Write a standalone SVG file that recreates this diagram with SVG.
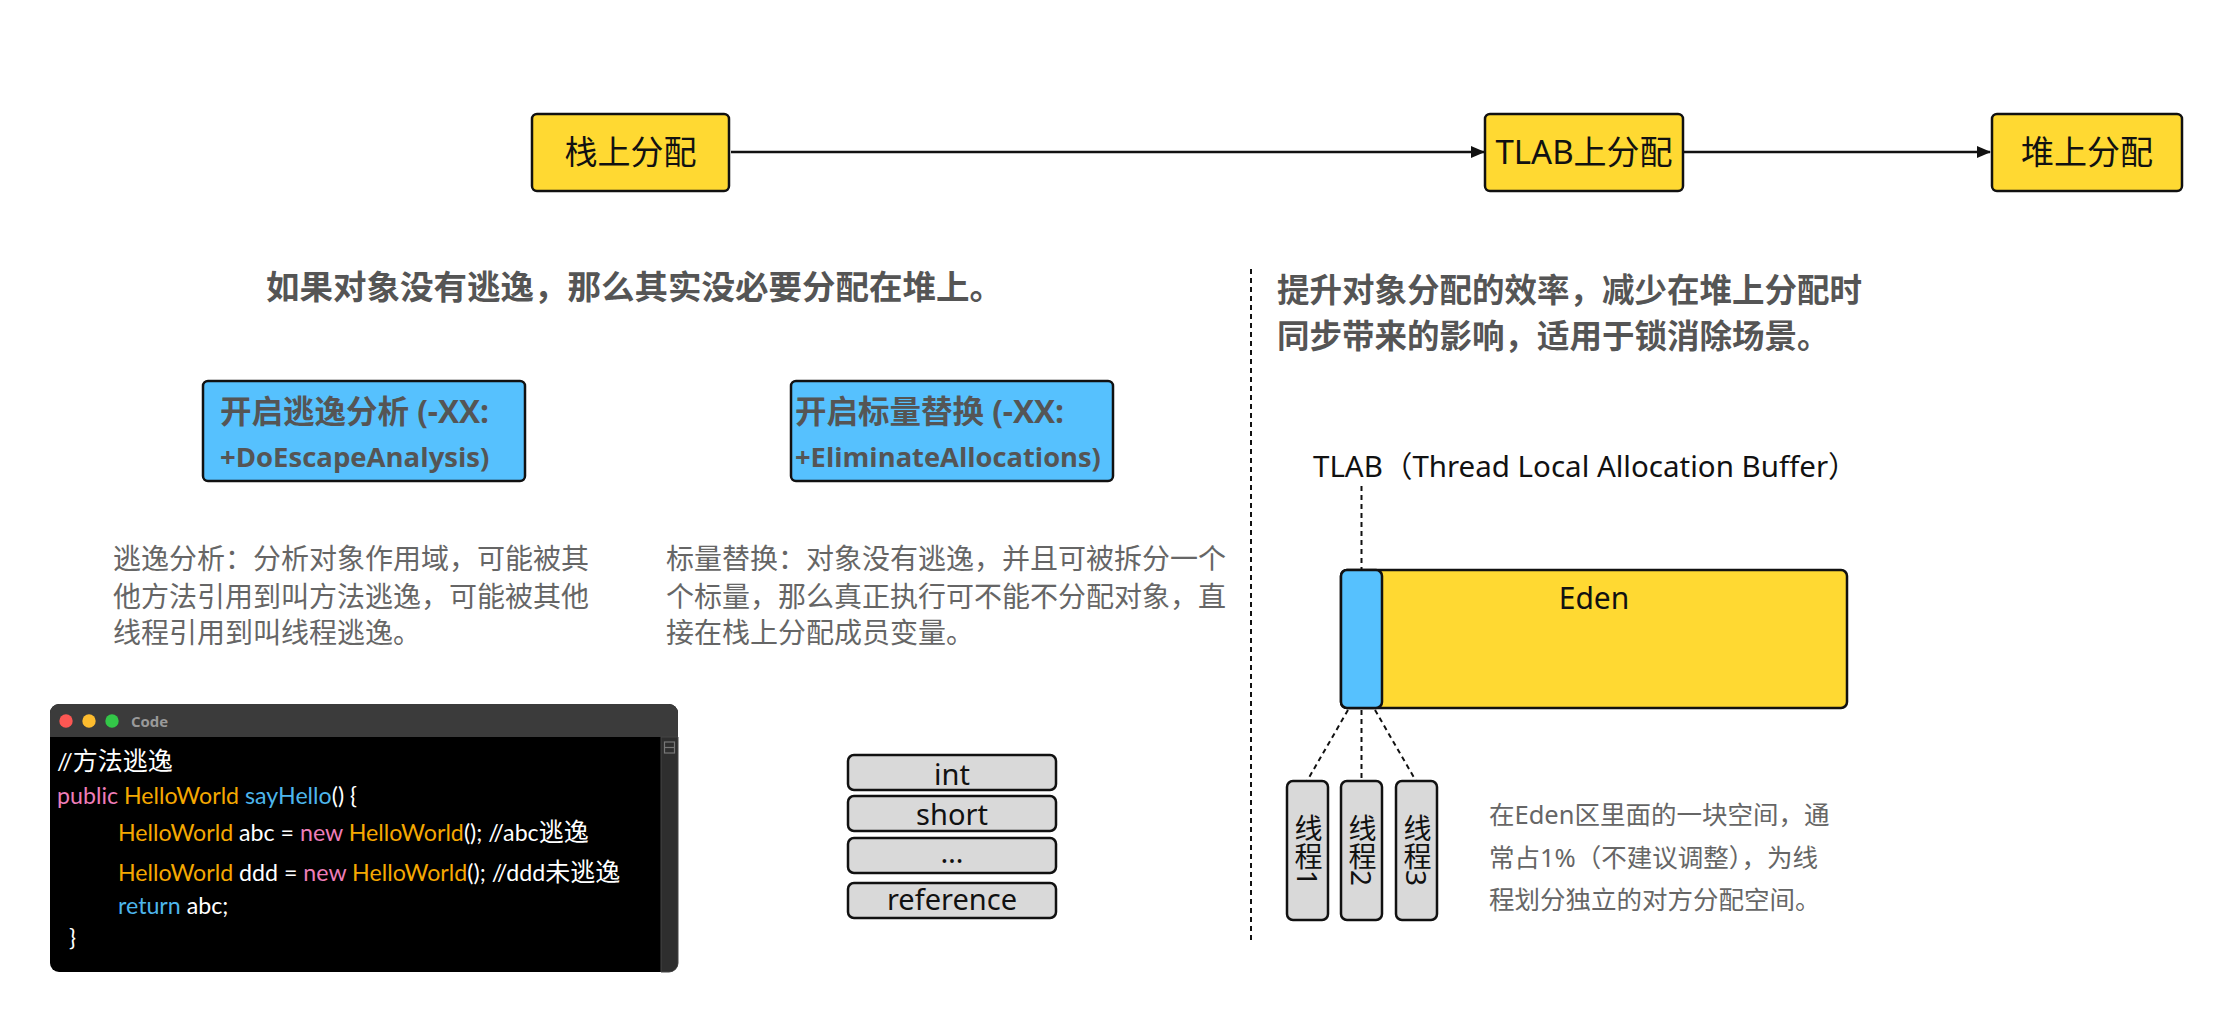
<svg xmlns="http://www.w3.org/2000/svg" width="2224" height="1010" viewBox="0 0 2224 1010">
<style>
.ybox{fill:#FFD932;stroke:#111;stroke-width:2.5}
.bbox{fill:#56C1FE;stroke:#111;stroke-width:2.5}
.gbox{fill:#D9D9D9;stroke:#111;stroke-width:2.5}
.lbl{font-family:"Noto Sans","Noto Sans CJK SC",sans-serif;fill:#111}
.h{font-family:"Open Sans","Noto Sans CJK SC",sans-serif;font-weight:bold;fill:#555;font-size:32.5px}
.p{font-family:"Noto Sans","Noto Sans CJK SC",sans-serif;fill:#666;font-size:28px}
.bt{font-family:"Open Sans","Noto Sans CJK SC",sans-serif;font-weight:bold;fill:#555}
.code{font-family:Lato,"Noto Sans CJK SC",sans-serif;font-size:23.2px;fill:#fff}
.cjk{font-size:25px}
.pk{fill:#EE7DB8}.or{fill:#F5A800}.bl{fill:#4DB6EC}
.dash{stroke:#111;stroke-width:2;stroke-dasharray:5 4;fill:none}
.conn{stroke:#111;stroke-width:2.5;fill:none}
</style>
<defs>
<marker id="ah" markerUnits="userSpaceOnUse" markerWidth="14" markerHeight="12" refX="13" refY="6" orient="auto">
<path d="M0,0 L14,6 L0,12 z" fill="#111"/>
</marker>
</defs>
<rect width="2224" height="1010" fill="#fff"/>

<g id="connectors">
<line class="conn" x1="731" y1="152" x2="1484" y2="152" marker-end="url(#ah)"/>
<line class="conn" x1="1684" y1="152" x2="1990" y2="152" marker-end="url(#ah)"/>
<line class="dash" x1="1361.5" y1="486" x2="1361.5" y2="569"/>
<line class="dash" x1="1348" y1="710" x2="1307" y2="781"/>
<line class="dash" x1="1361.5" y1="710" x2="1361.5" y2="781"/>
<line class="dash" x1="1375" y1="710" x2="1416" y2="781"/>
</g>

<g id="separator">
<line class="dash" x1="1251" y1="269" x2="1251" y2="944"/>
</g>

<g id="node-stack">
<rect class="ybox" x="532" y="114" width="197" height="77" rx="5"/>
<text class="lbl" x="630.5" y="164" font-size="33" text-anchor="middle">栈上分配</text>
</g>
<g id="node-tlab">
<rect class="ybox" x="1485" y="114" width="198" height="77" rx="5"/>
<text class="lbl" x="1584" y="164" font-size="33" text-anchor="middle">TLAB上分配</text>
</g>
<g id="node-heap">
<rect class="ybox" x="1992" y="114" width="190" height="77" rx="5"/>
<text class="lbl" x="2087" y="164" font-size="33" text-anchor="middle">堆上分配</text>
</g>

<g id="title-left">
<text class="h" x="266" y="299" style="font-size:33.5px">如果对象没有逃逸，那么其实没必要分配在堆上。</text>
</g>
<g id="title-right">
<text class="h" x="1277" y="302">提升对象分配的效率，减少在堆上分配时</text>
<text class="h" x="1277" y="348">同步带来的影响，适用于锁消除场景。</text>
</g>

<g id="node-escape">
<rect class="bbox" x="203" y="381" width="322" height="100" rx="5"/>
<text class="bt" x="220" y="423" font-size="31.5">开启逃逸分析 (-XX:</text>
<text class="bt" x="220" y="467" font-size="27.5">+DoEscapeAnalysis)</text>
</g>
<g id="node-scalar">
<rect class="bbox" x="791" y="381" width="322" height="100" rx="5"/>
<text class="bt" x="795" y="423" font-size="31.5">开启标量替换 (-XX:</text>
<text class="bt" x="795" y="467" font-size="27.3">+EliminateAllocations)</text>
</g>

<g id="desc-escape">
<text class="p" x="113" y="569">逃逸分析：分析对象作用域，可能被其</text>
<text class="p" x="113" y="607">他方法引用到叫方法逃逸，可能被其他</text>
<text class="p" x="113" y="643">线程引用到叫线程逃逸。</text>
</g>
<g id="desc-scalar">
<text class="p" x="666" y="569">标量替换：对象没有逃逸，并且可被拆分一个</text>
<text class="p" x="666" y="607">个标量，那么真正执行可不能不分配对象，直</text>
<text class="p" x="666" y="643">接在栈上分配成员变量。</text>
</g>

<g id="code-window">
<rect x="50" y="704" width="628" height="268" rx="9" fill="#000"/>
<path d="M50,737 V713 a9,9 0 0 1 9,-9 H669 a9,9 0 0 1 9,9 V737 z" fill="#3B3B3B"/>
<circle cx="66" cy="721" r="6.7" fill="#FC5753"/>
<circle cx="89" cy="721" r="6.7" fill="#FDBC2E"/>
<circle cx="112" cy="721" r="6.7" fill="#33C748"/>
<text x="131" y="727" font-family="Open Sans,sans-serif" font-weight="bold" font-size="15" fill="#9A9A9A">Code</text>
<path d="M661,737 H678 V963 a9,9 0 0 1 -9,9 H661 z" fill="#2E2E2E" stroke="#444" stroke-width="1"/>
<rect x="664.5" y="742" width="10" height="11" fill="none" stroke="#777" stroke-width="1.2"/>
<line x1="664.5" y1="747.5" x2="674.5" y2="747.5" stroke="#777" stroke-width="1.2"/>
<text class="code" x="57" y="770">//<tspan class="cjk">方法逃逸</tspan></text>
<text class="code" x="57" y="804"><tspan class="pk">public</tspan> <tspan class="or">HelloWorld</tspan> <tspan class="bl">sayHello</tspan>() {</text>
<text class="code" x="118" y="841"><tspan class="or">HelloWorld</tspan> abc = <tspan class="pk">new</tspan> <tspan class="or">HelloWorld</tspan>(); //abc<tspan class="cjk">逃逸</tspan></text>
<text class="code" x="118" y="881"><tspan class="or">HelloWorld</tspan> ddd = <tspan class="pk">new</tspan> <tspan class="or">HelloWorld</tspan>(); //ddd<tspan class="cjk">未逃逸</tspan></text>
<text class="code" x="118" y="914"><tspan class="bl">return</tspan> abc;</text>
<text class="code" x="69" y="946">}</text>
</g>

<g id="node-scalar-fields">
<rect class="gbox" x="848" y="755" width="208" height="35" rx="6"/>
<text class="lbl" x="952" y="785" font-size="29" text-anchor="middle">int</text>
<rect class="gbox" x="848" y="796" width="208" height="35" rx="6"/>
<text class="lbl" x="952" y="825" font-size="29" text-anchor="middle">short</text>
<rect class="gbox" x="848" y="838" width="208" height="35" rx="6"/>
<text class="lbl" x="952" y="863" font-size="29" text-anchor="middle">…</text>
<rect class="gbox" x="848" y="883" width="208" height="35" rx="6"/>
<text class="lbl" x="952" y="910" font-size="29" text-anchor="middle">reference</text>
</g>

<g id="tlab-label">
<text class="lbl" x="1313" y="477" font-size="29.5">TLAB（Thread Local Allocation Buffer）</text>
</g>

<g id="node-eden">
<rect class="ybox" x="1341" y="570" width="506" height="138" rx="6"/>
<rect class="bbox" x="1341" y="570" width="41" height="138" rx="6"/>
<text class="lbl" x="1594" y="609" font-size="30" text-anchor="middle">Eden</text>
</g>

<g id="node-thread1">
<rect class="gbox" x="1287" y="781" width="41" height="139" rx="6"/>
<text class="lbl" x="1307.5" y="850" font-size="28" text-anchor="middle" style="writing-mode:vertical-rl">线程1</text>
</g>
<g id="node-thread2">
<rect class="gbox" x="1341" y="781" width="41" height="139" rx="6"/>
<text class="lbl" x="1361.5" y="850" font-size="28" text-anchor="middle" style="writing-mode:vertical-rl">线程2</text>
</g>
<g id="node-thread3">
<rect class="gbox" x="1396" y="781" width="41" height="139" rx="6"/>
<text class="lbl" x="1416.5" y="850" font-size="28" text-anchor="middle" style="writing-mode:vertical-rl">线程3</text>
</g>

<g id="desc-tlab">
<text class="p" x="1489" y="824" style="font-size:25.5px">在Eden区里面的一块空间，通</text>
<text class="p" x="1489" y="867" style="font-size:25.5px">常占1%（不建议调整），为线</text>
<text class="p" x="1489" y="909" style="font-size:25.5px">程划分独立的对方分配空间。</text>
</g>
</svg>
